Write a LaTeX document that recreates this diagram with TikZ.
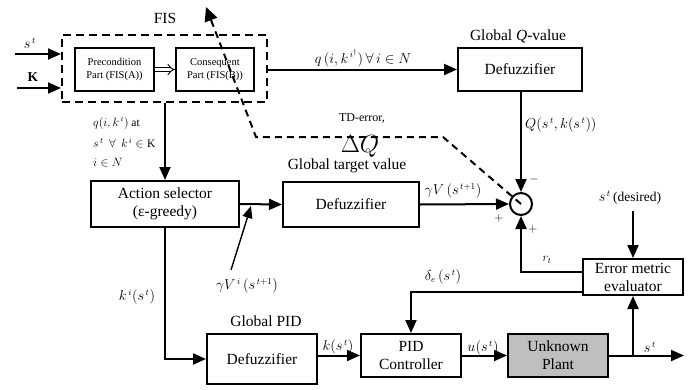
\documentclass[tikz,border=0pt]{standalone}
\usepackage{fontspec}
\setmainfont{Liberation Serif}
\newfontfamily\tnr{Liberation Serif}
\usetikzlibrary{arrows.meta,calc}
\begin{document}
\begin{tikzpicture}[x=1pt,y=-1pt,
  blk/.style={draw,line width=2pt,inner sep=0pt,align=center,font=\tnr\fontsize{15.5}{18}\selectfont},
  sblk/.style={draw,line width=2pt,inner sep=0pt,align=center,font=\tnr\fontsize{10.5}{12.5}\selectfont},
  lbl/.style={inner sep=0pt,font=\tnr\fontsize{15.5}{18}\selectfont},
  mlbl/.style={inner sep=0pt,font=\tnr\fontsize{13.5}{15}\selectfont},
  slbl/.style={inner sep=0pt,font=\tnr\fontsize{11.5}{13}\selectfont},
  arr/.style={line width=2pt,-{Triangle[length=13pt,width=11pt]}},
  dsh/.style={line width=2pt,dash pattern=on 8pt off 5pt}
]
\useasboundingbox (0,0) rectangle (699,389);

% FIS block
\node[draw,dsh,minimum width=205pt,minimum height=67pt,inner sep=0pt] (fis) at (164.5,68.5) {};
\node[sblk,minimum width=79pt,minimum height=43pt] (pre) at (114.5,69.5) {Precondition\\Part (FIS(A))};
\node[sblk,minimum width=78pt,minimum height=43pt] (con) at (215,69.5) {Consequent\\Part (FIS(B))};
\node[lbl] (fislbl) at (165,18) {FIS};

% other blocks
\node[blk,minimum width=124pt,minimum height=43pt] (qdef) at (520,69.5) {Defuzzifier};
\node[lbl] (qlbl) at (518,36) {Global \textit{Q}-value};
\node[blk,minimum width=148pt,minimum height=46pt] (act) at (165,204) {Action selector\\(ε-greedy)};
\node[blk,minimum width=136pt,minimum height=45pt] (tdef) at (351,204.5) {Defuzzifier};
\node[lbl] (tlbl) at (347,166) {Global target value};
\node[draw,circle,line width=2pt,minimum size=22pt,inner sep=0pt] (sum) at (521,204) {};
\node[blk,minimum width=100pt,minimum height=36pt] (err) at (633,277) {Error metric\\evaluator};
\node[blk,minimum width=100pt,minimum height=43pt] (pid) at (411,355.5) {PID\\Controller};
\node[blk,fill=black!25,minimum width=100pt,minimum height=43pt] (plant) at (558,355.5) {Unknown\\Plant};
\node[blk,minimum width=110pt,minimum height=50pt] (gdef) at (262,359) {Defuzzifier};
\node[lbl] (glbl) at (266,321) {Global PID};

% inputs
\coordinate (sin) at (15,54);
\coordinate (kin) at (17,88);
\draw[arr] (sin) -- (sin -| fis.west);
\draw[arr] (kin) -- (kin -| fis.west);
\node[mlbl] (slab) at (30,43) {$s^{\,t}$};
\node[mlbl] (klab) at (33,77) {$\mathbf{K}$};

\draw[line width=0.9pt,double,double distance=3pt,-{Implies}] (pre.east) -- (con.west);

% FIS -> Q defuzzifier
\draw[arr] (fis.east |- qdef.west) -- (qdef.west);
\node[mlbl] (qlab) at (363,58) {$q\,(i,k^{\,i^{\dagger}})\,\forall\, i\in N$};

% FIS -> action selector
\draw[arr] (fis.south -| act.north) -- (act.north);
\node[slbl,anchor=west] (ql1) at (93,123) {$q(i,k^{\,i})$ at};
\node[slbl,anchor=west] (ql2) at (93,143) {$s^{\,t}\;\,\forall\;\, k^{\,i}\in\mathrm{K}$};
\node[slbl,anchor=west] (ql3) at (93,163) {$i\in N$};

% Q defuzz -> sum
\draw[arr] (qdef.south -| sum.north) -- (sum.north);
\node[mlbl,anchor=west] (Qlab) at (525,125) {$Q(s^{\,t},k(s^{\,t}))$};
\node[slbl] (minus) at (534,179) {$-$};

% action -> target defuzz -> sum
\draw[arr] (act.east) -- (tdef.west);
\draw[arr] (tdef.east) -- (sum.west);
\node[mlbl] (gvlab) at (453,191) {$\gamma V\,(s^{\,t+1})$};
\node[slbl] (plus1) at (499,218) {$+$};
\node[slbl] (plus2) at (533,229) {$+$};

% gamma V^i arrow
\coordinate (gvi) at (231,270);
\draw[line width=1.4pt,-{Triangle[length=12pt,width=10pt]}] (gvi) -- (251,206);
\node[mlbl] (gvilab) at (247,286) {$\gamma V^{\,i}\,(s^{\,t+1})$};

% TD error dashed
\coordinate (td1) at (443,137);
\coordinate (td2) at (256,137);
\coordinate (td3) at (206,7);
\draw[line width=2pt,dash pattern=on 7pt off 5pt,-{Triangle[length=14pt,width=13pt]}] (sum.center) -- (td1) -- (td2) -- (td3);
\node[inner sep=0pt,font=\tnr\fontsize{12}{14}\selectfont] (tdlab) at (362,118) {TD-error,};
\node[inner sep=0pt,font=\fontsize{24}{26}\selectfont] (dq) at (360,146) {$\Delta Q$};

% error metric
\node[mlbl] (des) at (630,198) {$s^{\,t}\,$(desired)};
\coordinate (desc) at (633,211);
\draw[arr] (desc) -- (err.north);
\draw[arr] ($(err.west)+(0,-5)$) -| (sum.south);
\node[slbl] (rt) at (547,260) {$r_{t}$};
\draw[arr] ($(err.west)+(0,15)$) -| (pid.north);
\node[mlbl] (dlab) at (443,277) {$\delta_{e}\,(s^{\,t})$};

% bottom chain
\draw[arr] (act.south) |- (gdef.west);
\node[mlbl] (kilab) at (137,297) {$k^{\,i}(s^{\,t})$};
\draw[arr] (gdef.east |- pid.west) -- (pid.west);
\node[mlbl] (klab2) at (338,347) {$k(s^{\,t})$};
\draw[arr] (pid.east) -- (plant.west);
\node[mlbl] (ulab) at (483,348) {$u(s^{\,t})$};
\coordinate (out) at (684,355.5);
\draw[arr] (plant.east) -- (out);
\node[mlbl] (solab) at (650,347) {$s^{\,t}$};
\coordinate (br) at (633,355.5);
\draw[arr] (br) -- (err.south);
\end{tikzpicture}
\end{document}
